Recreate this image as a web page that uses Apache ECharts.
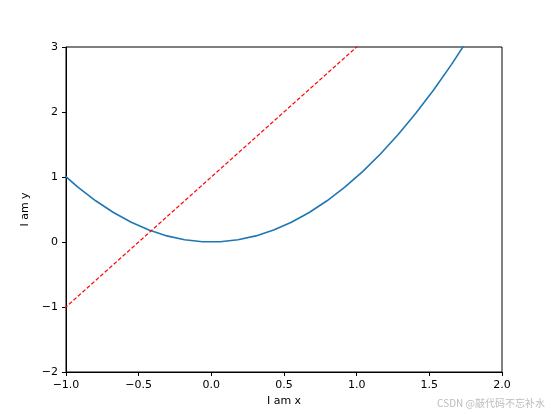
<!DOCTYPE html>
<html><head><meta charset="utf-8">
<script src="https://cdn.jsdelivr.net/npm/echarts@6/dist/echarts.min.js"></script>
<style>html,body{margin:0;padding:0;background:#fff}#c{width:551px;height:414px}</style>
</head><body><div id="c"></div>
<script>
const xs = [-1.0408,-0.9184,-0.7959,-0.6735,-0.5510,-0.4286,-0.3061,-0.1837,-0.0612,0.0612,0.1837,0.3061,0.4286,0.5510,0.6735,0.7959,0.9184,1.0408,1.1633,1.2857,1.4082,1.5306,1.6531,1.7755];
const curveY = [1.083,0.843,0.634,0.454,0.304,0.184,0.094,0.034,0.004,0.004,0.034,0.094,0.184,0.304,0.454,0.634,0.843,1.083,1.353,1.653,1.983,2.343,2.733,3.152];
const lineX = [-1.0408,1.0408];
const lineY = [-1.0816,3.0816];
const fmt = v => String(v).replace('-', '\u2212');
const chart = echarts.init(document.getElementById('c'));
const axisCommon = {
  axisLine:{show:true,onZero:false,lineStyle:{color:'#000',width:1}},
  axisTick:{show:true,inside:false,length:4,lineStyle:{color:'#000'}},
  splitLine:{show:false},
  nameLocation:'middle',
  nameTextStyle:{color:'#000',fontSize:11,fontFamily:'DejaVu Sans'}
};
chart.setOption({
  animation:false,
  grid:{left:66,right:49,top:47,bottom:42,show:true,borderColor:'#000',borderWidth:1,backgroundColor:'#fff'},
  xAxis:Object.assign({type:'value',min:-1,max:2,interval:0.5,name:'I am x',nameGap:22,
    axisLabel:{color:'#000',fontSize:11,fontFamily:'DejaVu Sans',formatter:v=>fmt(v.toFixed(1))}},axisCommon),
  yAxis:Object.assign({type:'value',min:-2,max:3,interval:1,name:'I am y',nameGap:30,
    axisLabel:{color:'#000',fontSize:11,fontFamily:'DejaVu Sans',formatter:v=>fmt(v)}},axisCommon),
  series:[
    {type:'line',data:xs.map((x,i)=>[x,curveY[i]]),showSymbol:false,clip:true,
     lineStyle:{color:'#1f77b4',width:1.6}},
    {type:'line',data:lineX.map((x,i)=>[x,lineY[i]]),showSymbol:false,clip:true,
     lineStyle:{color:'#ff0000',width:1.2,type:[4,2]}}
  ],
  graphic:[{type:'text',right:6,bottom:6,style:{text:'CSDN @敲代码不忘补水',fill:'#bbb',fontSize:10,fontFamily:'Noto Sans CJK SC'}}]
});
</script></body></html>
